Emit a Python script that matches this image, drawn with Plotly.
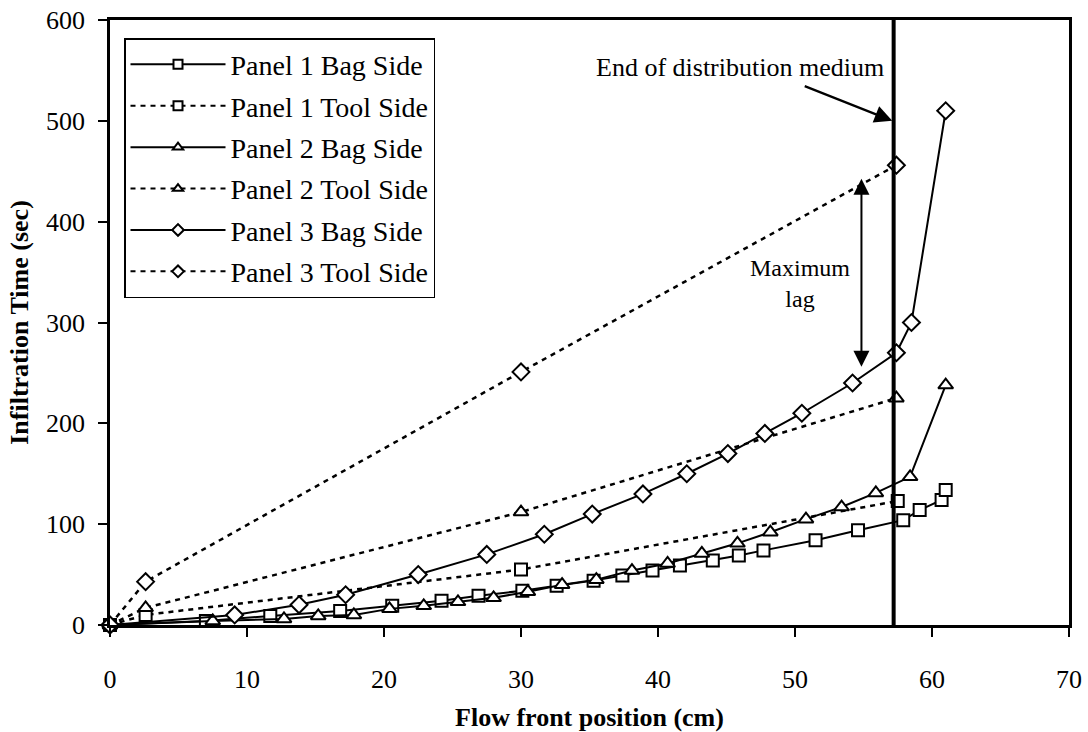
import plotly.graph_objects as go

# ---- data ----
p1_bag_x = [0, 7.0, 11.7, 16.8, 20.6, 24.2, 26.9, 30.1, 32.6, 35.3, 37.4, 39.6, 41.6, 44.0, 45.9, 47.7, 51.5, 54.6, 57.9, 59.1, 60.7, 61.0]
p1_bag_y = [0, 4, 9, 14, 19, 24, 29, 34, 39, 44, 49, 54, 59, 64, 69, 74, 84, 94, 104, 114, 124, 134]
p1_tool_x = [0, 2.6, 30.0, 57.5]
p1_tool_y = [0, 10, 55, 123]
p2_bag_x = [0, 7.5, 12.7, 15.2, 17.8, 20.4, 22.9, 25.4, 28.0, 30.5, 33.0, 35.5, 38.1, 40.7, 43.2, 45.8, 48.2, 50.8, 53.4, 55.9, 58.4, 61.0]
p2_bag_y = [0, 4, 6, 9, 10, 16, 19, 23, 27, 33, 40, 45, 54, 61, 71, 81, 92, 105, 117, 131, 147, 238]
p2_tool_x = [0, 2.6, 30.0, 57.4]
p2_tool_y = [0, 17, 112, 225]
p3_bag_x = [0, 9.1, 13.8, 17.2, 22.5, 27.5, 31.7, 35.2, 38.9, 42.1, 45.1, 47.8, 50.5, 54.2, 57.4, 58.5, 61.0]
p3_bag_y = [0, 10, 20, 30, 50, 70, 90, 110, 130, 150, 170, 190, 210, 240, 270, 300, 510]
p3_tool_x = [0, 2.6, 30.0, 57.4]
p3_tool_y = [0, 43, 251, 456]

series = [
    ("Panel 1 Bag Side", p1_bag_x, p1_bag_y, "square", "solid"),
    ("Panel 1 Tool Side", p1_tool_x, p1_tool_y, "square", "dash"),
    ("Panel 2 Bag Side", p2_bag_x, p2_bag_y, "triangle-up", "solid"),
    ("Panel 2 Tool Side", p2_tool_x, p2_tool_y, "triangle-up", "dash"),
    ("Panel 3 Bag Side", p3_bag_x, p3_bag_y, "diamond", "solid"),
    ("Panel 3 Tool Side", p3_tool_x, p3_tool_y, "diamond", "dash"),
]

medium_end_x = 57.2
lag_x = 54.85
lag_top = 444
lag_bottom = 256

FONT = "Liberation Serif, Times New Roman, serif"
FS = 26
fig = go.Figure()

sizes = {"square": 12, "triangle-up": 13, "diamond": 13}
for i, (name, xs, ys, sym, dash) in enumerate(series):
    d = "solid" if dash == "solid" else "5px,5px"
    fig.add_trace(go.Scatter(
        x=xs, y=ys, mode="lines+markers", name=name, showlegend=False,
        line=dict(color="black", width=2 if dash == "solid" else 2.5, dash=d),
        marker=dict(symbol=sym, size=sizes[sym], color="white",
                    line=dict(color="black", width=2)),
        cliponaxis=False,
    ))
for i, (name, xs, ys, sym, dash) in enumerate(series):
    d = "solid" if dash == "solid" else "5px,5px"
    fig.add_trace(go.Scatter(
        x=[None], y=[None], mode="lines+markers", name=name, legendgroup=f"g{i}",
        line=dict(color="black", width=2, dash=d),
        marker=dict(symbol=sym, size=9, color="white",
                    line=dict(color="black", width=2)),
    ))

fig.add_shape(type="line", x0=medium_end_x, x1=medium_end_x, y0=0, y1=600,
              xref="x", yref="y", line=dict(color="black", width=4))

fig.add_annotation(x=46.0, y=553, text="End of distribution medium", showarrow=False,
                   font=dict(family=FONT, size=FS, color="black"))
fig.add_annotation(x=medium_end_x - 0.1, y=500, ax=50.6, ay=535, axref="x", ayref="y",
                   xref="x", yref="y", text="", showarrow=True, arrowhead=2,
                   arrowsize=1.6, arrowwidth=2.2, arrowcolor="black")
fig.add_annotation(x=50.4, y=339, text="Maximum<br>lag", showarrow=False,
                   font=dict(family=FONT, size=FS - 2, color="black"))
fig.add_annotation(x=lag_x, y=lag_bottom, ax=lag_x, ay=lag_top, axref="x", ayref="y",
                   xref="x", yref="y", text="", showarrow=True, arrowhead=2,
                   arrowside="end+start", startarrowhead=2,
                   arrowsize=1.6, startarrowsize=1.6, arrowwidth=2, arrowcolor="black")

axis_common = dict(showline=True, linecolor="black", linewidth=2.5, mirror=True,
                   ticks="outside", ticklen=9, tickwidth=2, tickcolor="black",
                   showgrid=False, zeroline=False, automargin=False,
                   tickfont=dict(family=FONT, size=FS, color="black"))

fig.update_layout(
    width=1088, height=732,
    margin=dict(l=110, r=19, t=20, b=107),
    paper_bgcolor="white", plot_bgcolor="white",
    font=dict(family=FONT, size=FS, color="black"),
    xaxis=dict(range=[0, 70], dtick=10, ticklabelstandoff=20, **axis_common,
               title=dict(text="<b>Flow front position (cm)</b>", font=dict(family=FONT, size=FS), standoff=18)),
    yaxis=dict(range=[0, 600], dtick=100, ticklabelstandoff=8, **axis_common,
               title=dict(text="<b>Infiltration Time (sec)</b>", font=dict(family=FONT, size=FS), standoff=10)),
    legend=dict(x=0.0146, y=0.97, xanchor="left", yanchor="top",
                bordercolor="black", borderwidth=1.5, bgcolor="white",
                font=dict(family=FONT, size=28, color="black"),
                itemwidth=95, tracegroupgap=2),
)

fig.write_html("out.html")
